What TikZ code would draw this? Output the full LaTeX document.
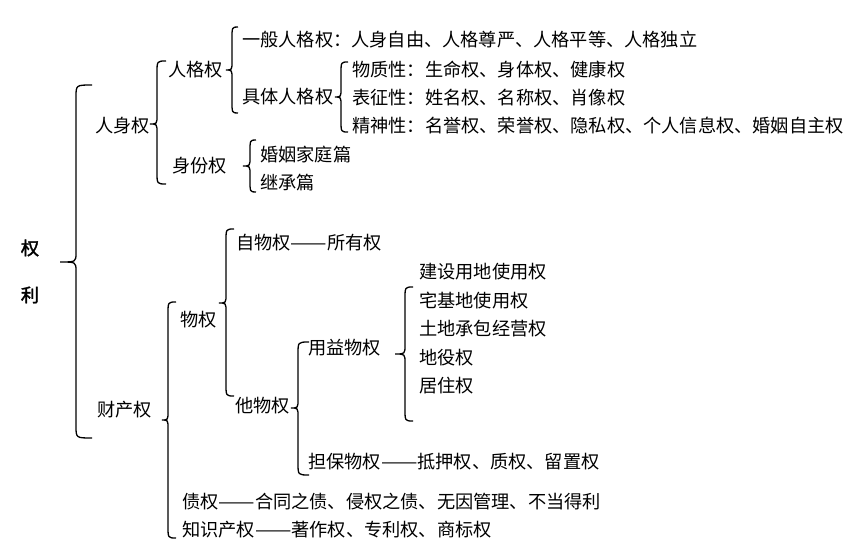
\documentclass[tikz,border=0pt]{standalone}
\usepackage{fontspec}
\newfontfamily\cjk{Noto Sans CJK SC}
\newfontfamily\cjkb[FakeBold=2]{Noto Sans CJK SC}
\newcommand\dd{\resizebox{2em}{\height}{——}}
% brace: #1 x of ends, #2 y top, #3 x of line, #4 x of tip, #5 y of tip, #6 y bottom
\newcommand\mybrace[6]{%
  \draw[bracestyle] (#1,#2) .. controls (#3,#2) .. (#3,#2+12) -- (#3,#5-9)
    .. controls (#3,#5) .. (#4,#5) .. controls (#3,#5) .. (#3,#5+9)
    -- (#3,#6-12) .. controls (#3,#6) .. (#1,#6);}
\begin{document}
\begin{tikzpicture}[x=1pt,y=-1pt,
  txt/.style={anchor=west,inner sep=0pt,font=\cjk\fontsize{18.2}{20}\selectfont},
  bold/.style={anchor=center,inner sep=0pt,font=\cjkb\fontsize{18.2}{20}\selectfont},
  bracestyle/.style={line width=1.3pt,black}]
\useasboundingbox (0,0) rectangle (867,548);
% root
\node[bold] (quan) at (30,248) {权};
\node[bold] (li) at (30,295) {利};
\mybrace{92}{85}{76}{60}{262}{438}
% personal rights
\node[txt] (rs) at (95,126) {人身权};
\mybrace{166}{61}{157}{150}{124}{184}
\node[txt] (rg) at (168,70) {人格权};
\mybrace{238}{27}{232}{226}{70}{113}
\node[txt] (yb) at (242,40) {一般人格权：人身自由、人格尊严、人格平等、人格独立};
\node[txt] (jt) at (242,97) {具体人格权};
\mybrace{348}{62}{341}{335}{97}{132}
\node[txt] (wz) at (352,70) {物质性：生命权、身体权、健康权};
\node[txt] (bz) at (352,98) {表征性：姓名权、名称权、肖像权};
\node[txt] (js) at (352,126) {精神性：名誉权、荣誉权、隐私权、个人信息权、婚姻自主权};
\node[txt] (sf) at (172,166) {身份权};
\mybrace{256}{140}{250}{243}{166}{192}
\node[txt] (hy) at (260,155) {婚姻家庭篇};
\node[txt] (jc) at (260,183) {继承篇};
% property rights
\node[txt] (cc) at (97,410) {财产权};
\mybrace{176}{302}{168}{162}{420}{538}
\node[txt] (wq) at (180,320) {物权};
\mybrace{234}{229}{226}{219}{303}{396}
\node[txt] (zw) at (236,243) {自物权\dd 所有权};
\node[txt] (tw) at (235,406) {他物权};
\mybrace{309}{342}{298}{291}{408}{475}
\node[txt] (yy) at (308,348) {用益物权};
\mybrace{413}{287}{405}{395}{354}{421}
\node[txt] (a1) at (419,272) {建设用地使用权};
\node[txt] (a2) at (419,301) {宅基地使用权};
\node[txt] (a3) at (419,329) {土地承包经营权};
\node[txt] (a4) at (419,358) {地役权};
\node[txt] (a5) at (419,386) {居住权};
\node[txt] (db) at (308,462) {担保物权\dd 抵押权、质权、留置权};
\node[txt] (zq) at (182,502) {债权\dd 合同之债、侵权之债、无因管理、不当得利};
\node[txt] (zs) at (182,530) {知识产权\dd 著作权、专利权、商标权};
\end{tikzpicture}
\end{document}
